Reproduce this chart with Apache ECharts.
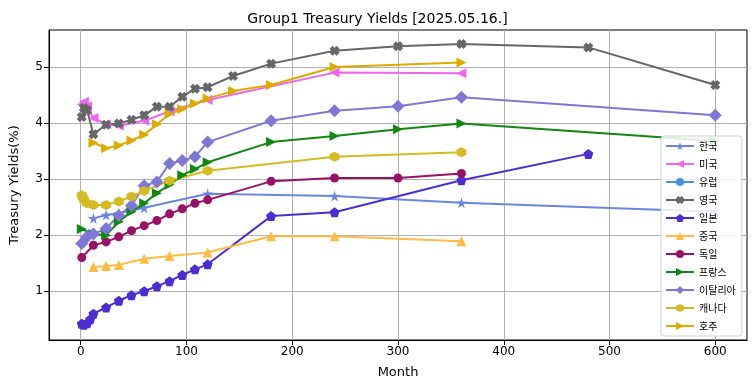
<!DOCTYPE html>
<html>
<head>
<meta charset="utf-8">
<script src="https://cdn.jsdelivr.net/npm/echarts@6/dist/echarts.min.js"></script>
<style>
html,body{margin:0;padding:0;background:#fff;}
#chart{width:755px;height:391px;}
</style>
</head>
<body>
<div id="chart"></div>
<script>
// ---- data ----
const names = ['한국','미국','유럽','영국','일본','중국','독일','프랑스','이탈리아','캐나다','호주'];
const xTicks = [0,100,200,300,400,500,600];
const yTicks = [1,2,3,4,5];

const krMonths = [12,24,36,60,120,240,360,600];
const krYields = [2.30,2.36,2.39,2.49,2.74,2.70,2.58,2.42];

const usMonths = [1,3,6,12,24,36,60,84,120,240,360];
const usYields = [4.33,4.38,4.30,4.09,3.98,3.95,4.04,4.21,4.41,4.90,4.89];

const euMonths = [];
const euYields = [];

const ukMonths = [1,3,6,12,24,36,48,60,72,84,96,108,120,144,180,240,300,360,480,600];
const ukYields = [4.11,4.27,4.23,3.80,3.97,3.99,4.06,4.14,4.29,4.29,4.47,4.61,4.64,4.84,5.06,5.29,5.37,5.41,5.35,4.68];

const jpMonths = [1,3,6,9,12,24,36,48,60,72,84,96,108,120,180,240,360,480];
const jpYields = [0.42,0.40,0.43,0.50,0.60,0.71,0.83,0.93,1.00,1.09,1.18,1.29,1.39,1.48,2.34,2.41,2.98,3.45];

const cnMonths = [12,24,36,60,84,120,180,240,360];
const cnYields = [1.43,1.45,1.47,1.58,1.63,1.69,1.98,1.98,1.89];

const deMonths = [1,12,24,36,48,60,72,84,96,108,120,180,240,300,360];
const deYields = [1.60,1.82,1.88,1.97,2.08,2.17,2.26,2.38,2.47,2.57,2.63,2.96,3.02,3.02,3.10];

const frMonths = [1,12,24,36,48,60,72,84,96,108,120,180,240,300,360,600];
const frYields = [2.11,2.02,2.00,2.24,2.42,2.57,2.75,2.90,3.07,3.18,3.30,3.66,3.77,3.89,3.99,3.68];

const itMonths = [1,6,12,24,36,48,60,72,84,96,108,120,180,240,300,360,600];
const itYields = [1.85,1.97,2.02,2.12,2.35,2.53,2.88,2.95,3.28,3.33,3.40,3.66,4.04,4.22,4.30,4.46,4.14];

const caMonths = [1,2,3,6,12,24,36,48,60,84,120,240,360];
const caYields = [2.71,2.67,2.63,2.57,2.54,2.54,2.60,2.69,2.79,2.97,3.15,3.40,3.48];

const auMonths = [12,24,36,48,60,72,84,96,108,120,144,180,240,360];
const auYields = [3.65,3.55,3.60,3.69,3.79,3.98,4.16,4.25,4.35,4.44,4.57,4.68,5.00,5.08];

// ---- styles ----
const STAR = 'path://M50,0 L61,35 L98,35 L68,57 L79,91 L50,70 L21,91 L32,57 L2,35 L39,35 Z';
const XMARK = 'path://M0,30 L30,0 L50,20 L70,0 L100,30 L80,50 L100,70 L70,100 L50,80 L30,100 L0,70 L20,50 Z';
const PENT = 'path://M50,0 L97.6,34.5 L79.4,90.5 L20.6,90.5 L2.4,34.5 Z';
const HEX = 'path://M50,0 L93.3,25 L93.3,75 L50,100 L6.7,75 L6.7,25 Z';
const LEFT = 'path://M100,0 L0,50 L100,100 Z';
const RIGHT = 'path://M0,0 L100,50 L0,100 Z';
const UP = 'path://M50,0 L100,100 L0,100 Z';

const seriesDefs = [
  {m: krMonths, y: krYields, color: '#6b85e0', symbol: STAR, size: 11},
  {m: usMonths, y: usYields, color: '#ee66ee', symbol: LEFT, size: 10},
  {m: euMonths, y: euYields, color: '#4a90e2', symbol: 'circle', size: 9},
  {m: ukMonths, y: ukYields, color: '#666666', symbol: XMARK, size: 10},
  {m: jpMonths, y: jpYields, color: '#4b2dd2', symbol: PENT, size: 10},
  {m: cnMonths, y: cnYields, color: '#ffbb44', symbol: UP, size: 10},
  {m: deMonths, y: deYields, color: '#991166', symbol: 'circle', size: 9},
  {m: frMonths, y: frYields, color: '#118811', symbol: RIGHT, size: 10},
  {m: itMonths, y: itYields, color: '#7f77d6', symbol: 'diamond', size: 13},
  {m: caMonths, y: caYields, color: '#d4bb22', symbol: HEX, size: 10},
  {m: auMonths, y: auYields, color: '#ddaa00', symbol: RIGHT, size: 10}
];

const series = seriesDefs.map((d, i) => ({
  name: names[i],
  type: 'line',
  data: d.m.map((mm, k) => [mm, d.y[k]]),
  symbol: d.symbol,
  symbolSize: d.size,
  showAllSymbol: true,
  lineStyle: {color: d.color, width: 2},
  itemStyle: {color: d.color},
  emphasis: {disabled: true},
  animation: false
}));

const chart = echarts.init(document.getElementById('chart'));
const FONT = 'DejaVu Sans';
chart.setOption({
  backgroundColor: '#fff',
  animation: false,
  title: {
    text: 'Group1 Treasury Yields [2025.05.16.]',
    left: 'center', top: 7,
    textStyle: {fontFamily: FONT, fontSize: 14, fontWeight: 'normal', color: '#000'}
  },
  grid: {
    left: 48, right: 8, top: 30, bottom: 51,
    show: true, borderColor: '#000', borderWidth: 1, backgroundColor: 'transparent'
  },
  legend: {
    orient: 'vertical',
    left: 661, top: 136,
    width: 81,
    padding: [5, 6, 5, 4],
    itemWidth: 28, itemHeight: 10, itemGap: 8,
    backgroundColor: 'rgba(255,255,255,0.85)',
    borderColor: '#d0d0d0', borderWidth: 1, borderRadius: 3,
    textStyle: {fontFamily: 'Noto Sans CJK KR', fontSize: 10, color: '#000'},
    data: names
  },
  xAxis: {
    type: 'value',
    min: -30, max: 630,
    name: 'Month', nameLocation: 'middle', nameGap: 26,
    nameTextStyle: {fontFamily: FONT, fontSize: 13, color: '#000'},
    axisLine: {show: true, onZero: false, lineStyle: {color: '#000'}},
    axisTick: {show: true, length: 5, lineStyle: {color: '#000'}, customValues: xTicks},
    axisLabel: {fontFamily: FONT, fontSize: 12, color: '#000', margin: 6, customValues: xTicks},
    splitLine: {show: true, lineStyle: {color: '#b0b0b0', width: 1}}
  },
  yAxis: {
    type: 'value',
    min: 0.13, max: 5.66,
    name: 'Treasury Yields(%)', nameLocation: 'middle', nameGap: 28,
    nameTextStyle: {fontFamily: FONT, fontSize: 13, color: '#000'},
    axisLine: {show: true, onZero: false, lineStyle: {color: '#000'}},
    axisTick: {show: true, length: 5, lineStyle: {color: '#000'}, customValues: yTicks},
    axisLabel: {fontFamily: FONT, fontSize: 12, color: '#000', margin: 6, customValues: yTicks},
    splitLine: {show: true, lineStyle: {color: '#b0b0b0', width: 1}}
  },
  series: series
});
</script>
</body>
</html>
